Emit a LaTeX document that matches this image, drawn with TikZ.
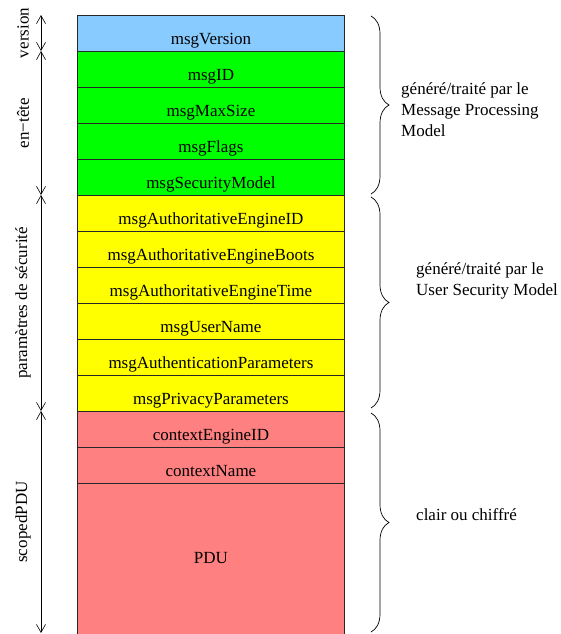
\documentclass[tikz,border=0pt]{standalone}
\usepackage{fontspec}
\setmainfont{Liberation Serif}
\usetikzlibrary{arrows.meta,decorations.pathreplacing}
\definecolor{cblue}{RGB}{136,204,255}
\definecolor{cgreen}{RGB}{0,255,0}
\definecolor{cyellow}{RGB}{255,255,0}
\definecolor{cred}{RGB}{255,128,128}
\definecolor{cline}{RGB}{40,40,40}
\tikzset{
  row/.style={draw=cline, line width=0.9pt, fill=#1, anchor=north west, minimum width=267pt,
    minimum height=36pt, inner sep=0pt, text height=29.5pt, text depth=6.5pt},
  sidelabel/.style={rotate=90, inner sep=0pt},
  span/.style={{Straight Barb[length=8pt,width=9pt]}-{Straight Barb[length=8pt,width=9pt]}, line width=0.6pt},
  bracebox/.style={decorate, decoration={brace, amplitude=18pt}, line width=0.7pt},
  note/.style={anchor=west, align=left, inner sep=0pt}
}
\begin{document}
\begin{tikzpicture}[x=1pt,y=-1pt,font=\fontsize{17}{21}\selectfont]
\useasboundingbox (0,0) rectangle (560,634);
\begin{scope}
\clip (0,0) rectangle (560,634);
\node[row=cblue]   (v)  at (77,15)  {msgVersion};
\node[row=cgreen]  (g1) at (77,51)  {msgID};
\node[row=cgreen]  (g2) at (77,87)  {msgMaxSize};
\node[row=cgreen]  (g3) at (77,123) {msgFlags};
\node[row=cgreen]  (g4) at (77,159) {msgSecurityModel};
\node[row=cyellow] (y1) at (77,195) {msgAuthoritativeEngineID};
\node[row=cyellow] (y2) at (77,231) {msgAuthoritativeEngineBoots};
\node[row=cyellow] (y3) at (77,267) {msgAuthoritativeEngineTime};
\node[row=cyellow] (y4) at (77,303) {msgUserName};
\node[row=cyellow] (y5) at (77,339) {msgAuthenticationParameters};
\node[row=cyellow] (y6) at (77,375) {msgPrivacyParameters};
\node[row=cred]    (r1) at (77,411) {contextEngineID};
\node[row=cred]    (r2) at (77,447) {contextName};
\node[row=cred, minimum height=160pt, text height=80pt, text depth=80pt] (r3) at (77,483) {PDU};
\end{scope}

\coordinate (a0) at (41,15);
\coordinate (a1) at (41,51);
\coordinate (a2) at (41,195);
\coordinate (a3) at (41,411);
\coordinate (a4) at (41,633);
\draw[span] (a0) -- (a1);
\draw[span] (a1) -- (a2);
\draw[span] (a2) -- (a3);
\draw[span] (a3) -- (a4);

\node[sidelabel] (lv) at (23,33)  {version};
\node[sidelabel] (le) at (23,123) {en−tête};
\node[sidelabel] (lp) at (23,303) {paramètres de sécurité};
\node[sidelabel] (ls) at (23,522) {scopedPDU};

\coordinate (b0) at (371,16);
\coordinate (b1) at (371,194);
\coordinate (b2) at (371,197);
\coordinate (b3) at (371,408);
\coordinate (b4) at (371,413);
\coordinate (b5) at (371,632);
\draw[bracebox] (b0) -- (b1);
\draw[bracebox] (b2) -- (b3);
\draw[bracebox] (b4) -- (b5);

\node[note] (n1) at (401,110) {généré/traité par le\\Message Processing\\Model};
\node[note] (n2) at (416,281) {généré/traité par le\\User Security Model};
\node[note] (n3) at (416,515) {clair ou chiffré};
\end{tikzpicture}
\end{document}
